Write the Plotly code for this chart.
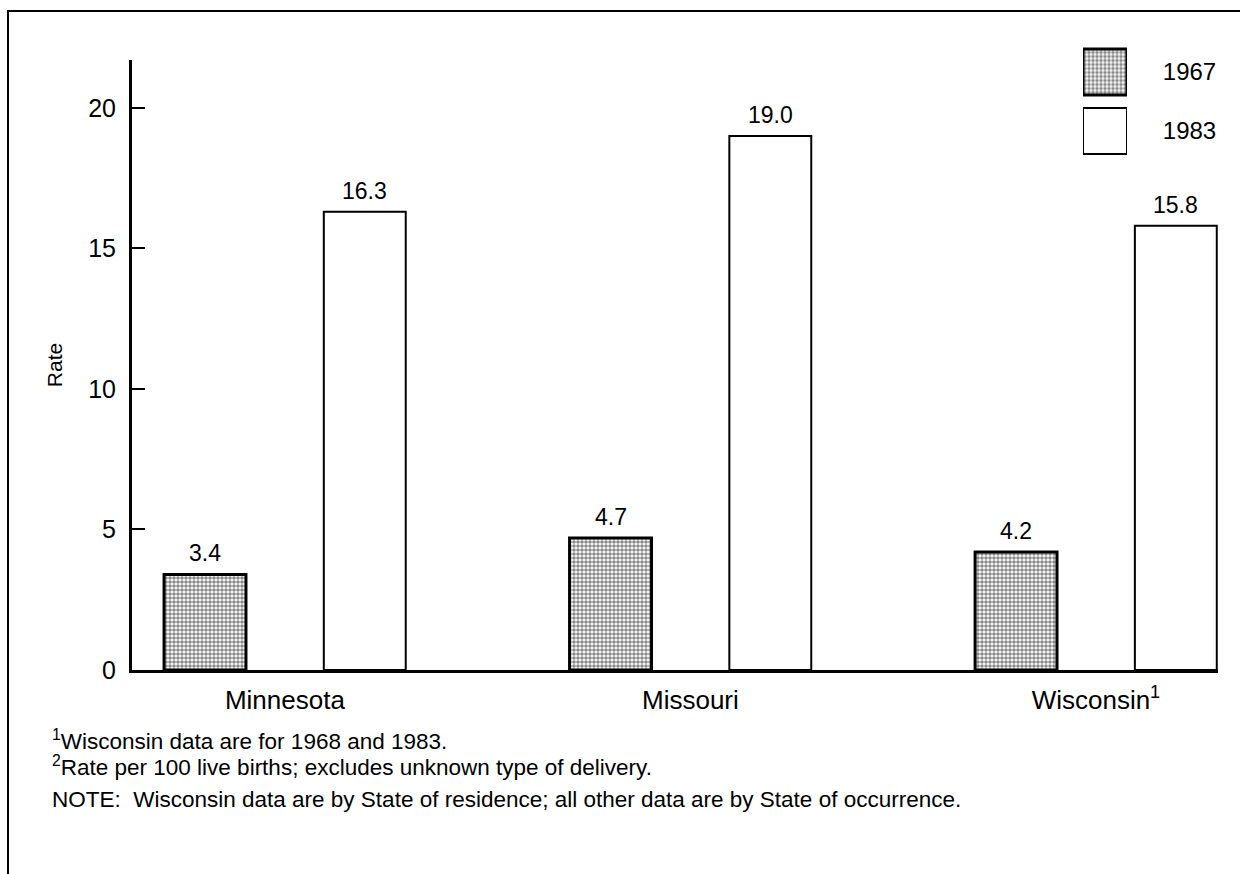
import plotly.graph_objects as go

# Cesarean delivery rates by State
states = ["Minnesota", "Missouri", "Wisconsin<sup>1</sup>"]
years = ["1967", "1983"]
rate_1967 = [3.4, 4.7, 4.2]
rate_1983 = [16.3, 19.0, 15.8]

FONT = "Liberation Sans, Arial, Helvetica, sans-serif"
W, H = 1243, 874
M_L, M_R, M_T, M_B = 132, 25, 30, 204
PLOT_W = W - M_L - M_R
PLOT_H = H - M_T - M_B

BAR_W = 0.202
OFFSETS = {"1967": -0.298, "1983": 0.096}

def px_x(p):
    return (p - M_L) / PLOT_W

def px_y(p):
    return (H - M_B - p) / PLOT_H

stipple = dict(shape=".", size=4, solidity=0.62, fgcolor="#111111", bgcolor="#ffffff")

fig = go.Figure()
fig.add_trace(go.Bar(
    x=states, y=rate_1967, name="1967", width=BAR_W, offset=OFFSETS["1967"],
    marker=dict(color="#ffffff", pattern=stipple, line=dict(color="#000", width=3)),
    showlegend=False,
))
fig.add_trace(go.Bar(
    x=states, y=rate_1983, name="1983", width=BAR_W, offset=OFFSETS["1983"],
    marker=dict(color="#ffffff", line=dict(color="#000", width=2)),
    showlegend=False,
))

# key swatches drawn as a tiny bar chart in their own axes
fig.add_trace(go.Bar(
    y=[years[0]], x=[1], orientation="h", width=0.78, offset=-0.39,
    marker=dict(color="#ffffff", pattern=stipple, line=dict(color="#000", width=3)),
    xaxis="x2", yaxis="y2", showlegend=False, hoverinfo="skip",
))
fig.add_trace(go.Bar(
    y=[years[1]], x=[1], orientation="h", width=0.78, offset=-0.39,
    marker=dict(color="#ffffff", line=dict(color="#000", width=2)),
    xaxis="x2", yaxis="y2", showlegend=False, hoverinfo="skip",
))

# value labels above each bar
annotations = []
for yr, vals in (("1967", rate_1967), ("1983", rate_1983)):
    for i, v in enumerate(vals):
        annotations.append(dict(
            x=i + OFFSETS[yr] + BAR_W / 2, y=v, xref="x", yref="y",
            text=f"{v:.1f}", showarrow=False, yanchor="bottom", yshift=6,
            font=dict(family=FONT, size=23, color="#000"),
        ))

notes = [
    ("<sup>1</sup>Wisconsin data are for 1968 and 1983.", 740),
    ("<sup>2</sup>Rate per 100 live births; excludes unknown type of delivery.", 766),
    ("NOTE:  Wisconsin data are by State of residence; all other data are by State of occurrence.", 799),
]
for text, yp in notes:
    annotations.append(dict(
        x=px_x(50), y=px_y(yp), xref="paper", yref="paper", text=text,
        showarrow=False, xanchor="left", yanchor="middle",
        font=dict(family=FONT, size=22.5, color="#000"),
    ))

shapes = [
    dict(type="line", xref="paper", yref="paper", x0=px_x(7), x1=px_x(1240),
         y0=px_y(11), y1=px_y(11), line=dict(color="#000", width=2)),
    dict(type="line", xref="paper", yref="paper", x0=px_x(8), x1=px_x(8),
         y0=px_y(11), y1=px_y(H + 5), line=dict(color="#000", width=2)),
]

fig.update_layout(
    width=W, height=H,
    margin=dict(l=M_L, r=M_R, t=M_T, b=M_B),
    paper_bgcolor="#ffffff", plot_bgcolor="#ffffff",
    barmode="overlay",
    font=dict(family=FONT, size=23, color="#000"),
    annotations=annotations, shapes=shapes,
    xaxis=dict(
        type="category", range=[-0.377, 2.301], domain=[0, 1],
        showline=True, linecolor="#000", linewidth=3, ticks="",
        showgrid=False, zeroline=False, ticklabelstandoff=5,
        tickfont=dict(family=FONT, size=26, color="#000"),
    ),
    yaxis=dict(
        range=[0, 21.7], domain=[0, px_y(60)],
        tickvals=[0, 5, 10, 15, 20],
        showline=True, linecolor="#000", linewidth=3,
        ticks="inside", ticklen=13, tickwidth=2, tickcolor="#000",
        showgrid=False, zeroline=False, ticklabelstandoff=8,
        tickfont=dict(family=FONT, size=25, color="#000"),
        title=dict(text="Rate", font=dict(family=FONT, size=21, color="#000"), standoff=20),
    ),
    xaxis2=dict(
        domain=[px_x(1083), px_x(1127)], range=[0, 1], anchor="y2",
        visible=False, fixedrange=True,
    ),
    yaxis2=dict(
        domain=[px_y(160.5), px_y(42.5)], anchor="x2", type="category",
        autorange="reversed", side="right", showline=False, showgrid=False,
        zeroline=False, ticks="outside", ticklen=30, tickcolor="rgba(0,0,0,0)",
        tickfont=dict(family=FONT, size=24, color="#000"), fixedrange=True,
    ),
)

fig.write_html("out.html")
